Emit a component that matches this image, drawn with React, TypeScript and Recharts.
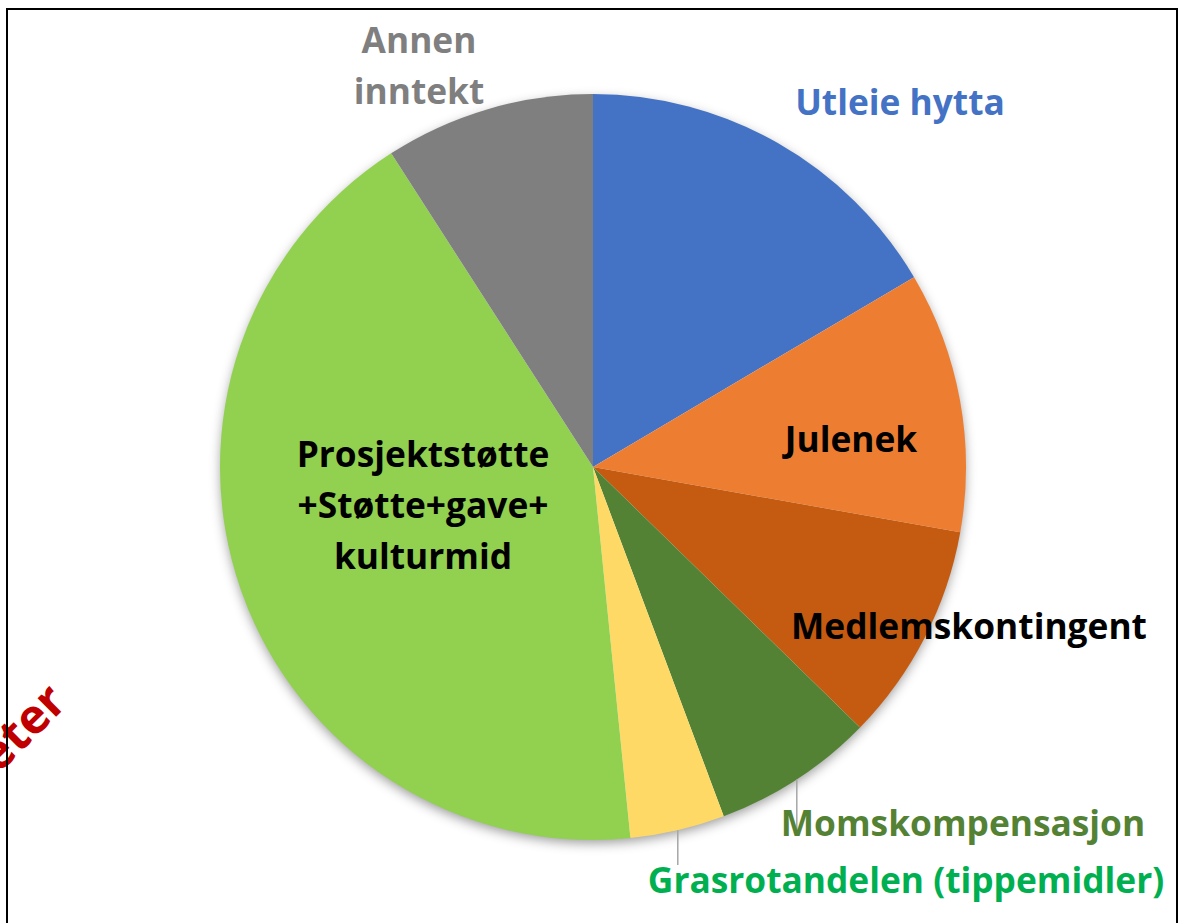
import { PieChart, Pie, Cell } from "recharts";

// slices, clockwise from 12 o'clock
const categories = [
  "Utleie hytta",
  "Julenek",
  "Medlemskontingent",
  "Momskompensasjon",
  "Grasrotandelen (tippemidler)",
  "Prosjektstøtte +Støtte+gave+ kulturmid",
  "Annen inntekt",
];
const shares = [16.5, 11.3, 9.5, 7.0, 4.1, 42.5, 9.1];
const sliceColors = ["#4472C4", "#ED7D31", "#C55A11", "#548235", "#FFD966", "#92D050", "#7F7F7F"];

// how each label is written (line breaks as in the original)
const labelLines = [
  ["Utleie hytta"],
  ["Julenek"],
  ["Medlemskontingent"],
  ["Momskompensasjon"],
  ["Grasrotandelen (tippemidler)"],
  ["Prosjektstøtte", "+Støtte+gave+", "kulturmid"],
  ["Annen", "inntekt"],
];
const labelColors = ["#4472C4", "#000000", "#000000", "#548235", "#00B050", "#000000", "#7F7F7F"];

const watermark = "eter";

const data = categories.map((name, i) => ({ name, value: shares[i] }));

// label placement, relative to the pie centre (first baseline)
const labelPos = [
  { dx: 307, dy: -352 },
  { dx: 258, dy: -15 },
  { dx: 376, dy: 172 },
  { dx: 370, dy: 369, leaderTo: 836 },
  { dx: 313, dy: 426, leaderTo: 865 },
  { dx: -170, dy: 0 },
  { dx: -174, dy: -414 },
];

const FONT = "'Open Sans', sans-serif";
const RAD = Math.PI / 180;

const renderLabel = (props: any) => {
  const { cx, cy, midAngle, outerRadius, index } = props;
  const pos = labelPos[index];
  const x = cx + pos.dx;
  const y = cy + pos.dy;
  let leader = null;
  if (pos.leaderTo) {
    const ax = cx + outerRadius * Math.cos(-midAngle * RAD);
    const ay = cy + outerRadius * Math.sin(-midAngle * RAD);
    leader = (
      <line x1={ax} y1={ay} x2={ax} y2={pos.leaderTo} stroke="#A6A6A6" strokeWidth={1.5} />
    );
  }
  return (
    <g key={`lbl-${index}`}>
      {leader}
      <text
        x={x}
        y={y}
        textAnchor="middle"
        fill={labelColors[index]}
        fontFamily={FONT}
        fontWeight="bold"
        fontSize={35.3}
      >
        {labelLines[index].map((t, j) => (
          <tspan key={j} x={x} dy={j === 0 ? 0 : 51}>
            {t}
          </tspan>
        ))}
      </text>
    </g>
  );
};

export default function App() {
  return (
    <div style={{ position: "fixed", left: 0, top: 0, width: 1179, height: 923, background: "#fff" }}>
      <PieChart width={1179} height={923} margin={{ top: 0, right: 0, bottom: 0, left: 0 }}>
        <text
          x={69}
          y={704}
          textAnchor="end"
          transform="rotate(-45 69 704)"
          fill="#C00000"
          fontFamily={FONT}
          fontWeight="bold"
          fontSize={48}
        >
          {watermark}
        </text>
        <rect x={7} y={9} width={1170} height={940} fill="none" stroke="#000" strokeWidth={2} />
        {/* soft shadow under the pie */}
        <Pie
          data={[{ name: "bg", value: 1 }]}
          dataKey="value"
          cx={593}
          cy={467}
          outerRadius={372}
          startAngle={90}
          endAngle={-270}
          stroke="none"
          isAnimationActive={false}
        >
          <Cell fill="#fff" style={{ filter: "drop-shadow(0px 4px 6px rgba(0,0,0,0.4))" }} />
        </Pie>
        <Pie
          data={data}
          dataKey="value"
          nameKey="name"
          cx={593}
          cy={467}
          outerRadius={373}
          startAngle={90}
          endAngle={-270}
          stroke="none"
          label={renderLabel}
          labelLine={false}
          isAnimationActive={false}
        >
          {data.map((d, i) => (
            <Cell key={d.name} fill={sliceColors[i]} />
          ))}
        </Pie>
      </PieChart>
    </div>
  );
}
